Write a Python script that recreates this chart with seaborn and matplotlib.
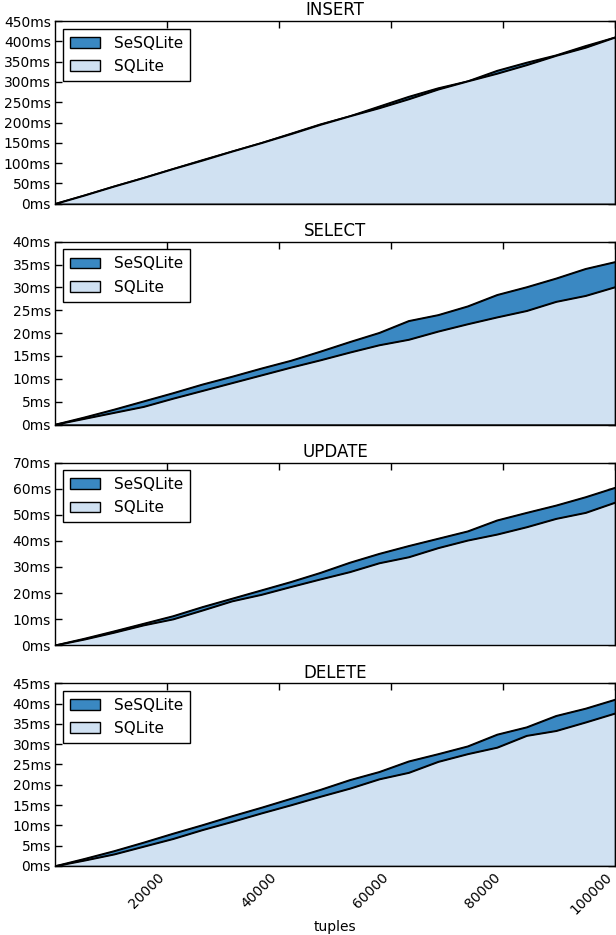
import matplotlib
matplotlib.use("Agg")
import matplotlib.pyplot as plt
from matplotlib.ticker import FuncFormatter
import seaborn as sns

sns.set_style("ticks")
plt.rcParams['font.family'] = ['DejaVu Sans']
plt.rcParams['text.color'] = 'black'
plt.rcParams['axes.labelcolor'] = 'black'

tuples = [0, 5263, 10526, 15789, 21053, 26316, 31579, 36842, 42105, 47368,
          52632, 57895, 63158, 68421, 73684, 78947, 84211, 89474, 94737, 100000]

insert_sqlite = [0, 21, 43, 64, 86, 107, 129, 150, 172, 195,
                 216, 236, 258, 282, 302, 321, 342, 365, 385, 410]
insert_sesqlite = [0, 21, 43, 64, 86, 108, 129, 150, 173, 196,
                   216, 240, 264, 285, 302, 328, 348, 366, 389, 410]

select_sqlite = [0, 1.3, 2.6, 3.9, 5.7, 7.4, 9.1, 10.8, 12.5, 14.1,
                 15.8, 17.4, 18.6, 20.4, 22.0, 23.5, 24.9, 26.9, 28.2, 30.1]
select_sesqlite = [0, 1.6, 3.3, 5.1, 6.9, 8.8, 10.5, 12.3, 14.0, 16.0,
                   18.1, 20.1, 22.7, 24.0, 25.9, 28.4, 30.1, 32.0, 34.1, 35.6]

update_sqlite = [0, 2.3, 4.9, 7.7, 10.0, 13.4, 16.9, 19.4, 22.4, 25.3,
                 28.1, 31.5, 33.8, 37.3, 40.2, 42.5, 45.3, 48.5, 50.8, 54.7]
update_sesqlite = [0, 2.6, 5.4, 8.3, 11.2, 14.7, 17.9, 21.1, 24.3, 27.8,
                   31.7, 35.1, 38.1, 40.9, 43.7, 47.9, 50.8, 53.6, 56.8, 60.4]

delete_sqlite = [0, 1.4, 2.9, 4.8, 6.7, 8.9, 10.9, 13.0, 15.0, 17.1,
                 19.1, 21.4, 23.0, 25.7, 27.6, 29.2, 32.1, 33.3, 35.4, 37.6]
delete_sesqlite = [0, 1.8, 3.7, 5.8, 8.0, 10.1, 12.3, 14.4, 16.6, 18.8,
                   21.2, 23.2, 25.8, 27.6, 29.5, 32.4, 34.2, 37.0, 38.8, 41.0]

panels = [
    ("INSERT", insert_sqlite, insert_sesqlite, 450, 50),
    ("SELECT", select_sqlite, select_sesqlite, 40, 5),
    ("UPDATE", update_sqlite, update_sesqlite, 70, 10),
    ("DELETE", delete_sqlite, delete_sesqlite, 45, 5),
]

dark = "#3a88c2"
light = "#d0e1f2"

fig, axes = plt.subplots(4, 1, figsize=(6.16, 9.35), dpi=100, sharex=True)
fig.subplots_adjust(left=0.0893, right=0.9984, top=0.9775, bottom=0.0738, hspace=0.208)

for ax, (name, sq, se, ymax, step) in zip(axes, panels):
    ax.fill_between(tuples, 0, se, facecolor=dark, edgecolor="black", linewidth=1, label="SeSQLite")
    ax.fill_between(tuples, 0, sq, facecolor=light, edgecolor="black", linewidth=1, label="SQLite")
    sns.lineplot(x=tuples, y=se, ax=ax, color="black", linewidth=1, legend=False)
    sns.lineplot(x=tuples, y=sq, ax=ax, color="black", linewidth=1, legend=False)
    ax.set_xlim(0, 100000)
    ax.set_ylim(0, ymax)
    ax.set_yticks(range(0, ymax + 1, step))
    ax.yaxis.set_major_formatter(FuncFormatter(lambda v, p: "%dms" % v))
    ax.set_title(name, fontsize=12, pad=4, color="black")
    ax.tick_params(direction="in", top=True, right=True, length=5, width=1,
                   labelsize=10, colors="black", pad=3)
    for s in ax.spines.values():
        s.set_color("black")
        s.set_linewidth(1)
    leg = ax.legend(loc="upper left", fontsize=11, fancybox=False, framealpha=1,
                    edgecolor="black", borderaxespad=0.5, handlelength=2.0,
                    handletextpad=0.9, labelspacing=0.55, borderpad=0.45)
    leg.get_frame().set_linewidth(1)

ax = axes[-1]
ax.set_xticks([20000, 40000, 60000, 80000, 100000])
ax.set_xticklabels(["20000", "40000", "60000", "80000", "100000"], rotation=45, ha="right")
ax.set_xlabel("tuples", fontsize=10, labelpad=2)

fig.savefig("out.png", dpi=100)
